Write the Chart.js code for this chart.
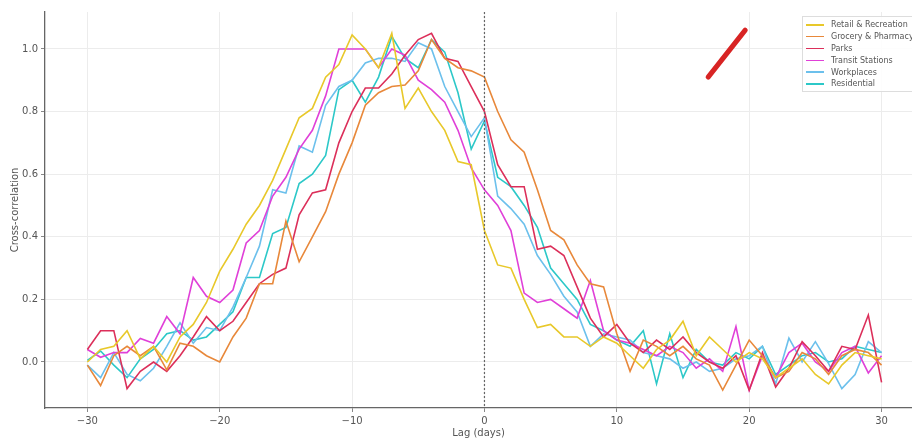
<!DOCTYPE html>
<html lang="en">
<head>
    <meta charset="UTF-8">
    <title>Cross-correlation by mobility category</title>
    <script src="https://cdn.jsdelivr.net/npm/chart.js"></script>
    <style>
        body {
            margin: 0;
            padding: 0;
            background-color: #ffffff;
            font-family: "DejaVu Sans", Arial, sans-serif;
        }
        .wrap {
            position: relative;
            width: 912px;
            height: 440px;
            overflow: hidden;
        }
        .legend {
            position: absolute;
            left: 802px;
            top: 16px;
            width: 120px;
            height: 76px;
            border: 1px solid #dddddd;
            background: rgba(255, 255, 255, 0.9);
            box-sizing: border-box;
            padding-top: 2px;
        }
        .legend .row {
            display: flex;
            align-items: center;
            height: 11.8px;
            font-size: 8px;
            color: #555555;
            white-space: nowrap;
        }
        .legend .swatch {
            width: 18px;
            height: 1.5px;
            margin-left: 3px;
            margin-right: 7px;
        }
    </style>
</head>
<body>
    <div class="wrap">
        <canvas id="ccChart" width="912" height="440"></canvas>
        <div class="legend" id="legend"></div>
    </div>
    <script>
        const lags = [];
        for (let d = -30; d <= 30; d++) lags.push(d);

        const seriesNames = ['Retail & Recreation', 'Grocery & Pharmacy', 'Parks', 'Transit Stations', 'Workplaces', 'Residential'];
        const seriesColors = ['#e8c82a', '#e8883a', '#dc2f5a', '#e040d8', '#6cc0ec', '#2cc8c8'];

        // values for lag -30 ... 30
        const retail = [0.00, 0.04, 0.05, 0.10, 0.01, 0.05, 0.00, 0.08, 0.12, 0.19,
            0.29, 0.36, 0.44, 0.50, 0.58, 0.68, 0.78, 0.81, 0.91, 0.95,
            1.045, 1.00, 0.94, 1.05, 0.81, 0.875, 0.80, 0.74, 0.64, 0.63,
            0.42,
            0.31, 0.30, 0.20, 0.11, 0.12, 0.08, 0.08, 0.05, 0.08, 0.06,
            0.02, -0.02, 0.04, 0.07, 0.13, 0.02, 0.08, 0.04, 0.00, 0.03,
            0.01, -0.05, -0.02, 0.01, -0.04, -0.07, -0.01, 0.03, 0.02, 0.01];
        const grocery = [-0.01, -0.075, 0.02, 0.05, 0.02, 0.05, -0.025, 0.06, 0.05, 0.02,
            0.00, 0.08, 0.14, 0.25, 0.25, 0.45, 0.32, 0.40, 0.48, 0.60,
            0.70, 0.82, 0.86, 0.88, 0.885, 0.93, 1.03, 0.97, 0.94, 0.93,
            0.91,
            0.80, 0.71, 0.67, 0.55, 0.42, 0.39, 0.31, 0.25, 0.24, 0.09,
            -0.03, 0.07, 0.05, 0.02, 0.05, 0.01, -0.01, -0.09, -0.01, 0.07,
            0.02, -0.05, -0.03, 0.03, 0.01, -0.04, 0.02, 0.04, 0.03, -0.01];
        const parks = [0.04, 0.10, 0.10, -0.085, -0.03, 0.00, -0.03, 0.02, 0.08, 0.145,
            0.10, 0.13, 0.19, 0.25, 0.28, 0.30, 0.47, 0.54, 0.55, 0.70,
            0.80, 0.875, 0.875, 0.92, 0.98, 1.03, 1.05, 0.97, 0.96, 0.88,
            0.80,
            0.63, 0.56, 0.56, 0.36, 0.37, 0.34, 0.24, 0.14, 0.08, 0.12,
            0.06, 0.03, 0.07, 0.04, 0.08, 0.03, 0.00, -0.02, 0.02, -0.09,
            0.03, -0.08, -0.02, 0.065, 0.02, -0.03, 0.05, 0.04, 0.15, -0.065];
        const transit = [0.04, 0.015, 0.03, 0.03, 0.075, 0.06, 0.145, 0.09, 0.27, 0.21,
            0.19, 0.23, 0.38, 0.42, 0.53, 0.59, 0.68, 0.74, 0.85, 1.00,
            1.00, 1.00, 0.94, 1.00, 0.98, 0.90, 0.87, 0.83, 0.74, 0.62,
            0.55,
            0.50, 0.42, 0.22, 0.19, 0.20, 0.17, 0.14, 0.26, 0.10, 0.07,
            0.06, 0.04, 0.02, 0.05, 0.03, -0.02, 0.01, -0.03, 0.113, -0.09,
            0.02, -0.05, 0.03, 0.06, 0.00, -0.03, 0.03, 0.05, -0.035, 0.02];
        const workplaces = [-0.01, -0.05, 0.03, -0.04, -0.06, -0.02, 0.05, 0.125, 0.06, 0.11,
            0.10, 0.175, 0.27, 0.37, 0.55, 0.54, 0.69, 0.67, 0.82, 0.88,
            0.90, 0.955, 0.97, 0.97, 0.96, 1.02, 1.00, 0.88, 0.80, 0.72,
            0.78,
            0.53, 0.49, 0.44, 0.34, 0.28, 0.21, 0.16, 0.05, 0.09, 0.08,
            0.07, 0.03, 0.02, 0.01, -0.02, 0.00, -0.03, -0.02, 0.01, 0.02,
            0.05, -0.07, 0.076, 0.00, 0.065, -0.005, -0.085, -0.04, 0.065, 0.03];
        const residential = [0.005, 0.035, -0.01, -0.05, 0.01, 0.04, 0.09, 0.10, 0.07, 0.08,
            0.12, 0.16, 0.27, 0.27, 0.41, 0.43, 0.57, 0.60, 0.66, 0.87,
            0.90, 0.83, 0.91, 1.04, 0.97, 0.94, 1.03, 0.99, 0.86, 0.68,
            0.77,
            0.59, 0.56, 0.50, 0.43, 0.30, 0.25, 0.20, 0.12, 0.10, 0.07,
            0.05, 0.10, -0.07, 0.09, -0.05, 0.04, 0.00, -0.01, 0.03, 0.01,
            0.05, -0.04, -0.01, 0.02, 0.03, 0.00, 0.01, 0.05, 0.04, 0.03];

        // the stray red stroke in the upper right of the picture
        const markLags = [16.9, 19.7];
        const markValues = [0.91, 1.06];

        const xTicks = [-30, -20, -10, 0, 10, 20, 30];
        const yTicks = [0.0, 0.2, 0.4, 0.6, 0.8, 1.0];

        const allSeries = [retail, grocery, parks, transit, workplaces, residential];

        const datasets = allSeries.map((vals, i) => ({
            label: seriesNames[i],
            data: lags.map((d, j) => ({ x: d, y: vals[j] })),
            borderColor: seriesColors[i],
            borderWidth: 1.6,
            pointRadius: 0,
            tension: 0,
            fill: false
        }));

        datasets.push({
            label: 'mark',
            data: markLags.map((d, j) => ({ x: d, y: markValues[j] })),
            borderColor: '#d82424',
            borderWidth: 5,
            borderCapStyle: 'round',
            pointRadius: 0,
            fill: false
        });

        // dashed line at lag 0
        const zeroLine = {
            id: 'zeroLine',
            afterDatasetsDraw(chart) {
                const x = chart.scales.x.getPixelForValue(0);
                const area = chart.chartArea;
                const ctx = chart.ctx;
                ctx.save();
                ctx.strokeStyle = '#666666';
                ctx.lineWidth = 1.2;
                ctx.setLineDash([2, 2]);
                ctx.beginPath();
                ctx.moveTo(x, area.top);
                ctx.lineTo(x, area.bottom);
                ctx.stroke();
                ctx.restore();
            }
        };

        const ctx = document.getElementById('ccChart').getContext('2d');
        const chart = new Chart(ctx, {
            type: 'line',
            data: { datasets: datasets },
            plugins: [zeroLine],
            options: {
                responsive: false,
                animation: false,
                layout: { padding: { top: 12, right: 0, left: 9, bottom: 0 } },
                plugins: {
                    legend: { display: false },
                    tooltip: { enabled: false }
                },
                scales: {
                    x: {
                        type: 'linear',
                        min: -33.2,
                        max: 32.3,
                        afterBuildTicks: (axis) => { axis.ticks = xTicks.map(v => ({ value: v })); },
                        afterFit: (axis) => { axis.height = 32; },
                        ticks: {
                            color: '#555555',
                            font: { size: 10, family: 'DejaVu Sans' },
                            padding: 3,
                            maxRotation: 0,
                            callback: (v) => (v < 0 ? '\u2212' + Math.abs(v) : String(v))
                        },
                        grid: { color: '#ececec', tickLength: 4, tickColor: '#888888' },
                        border: { color: '#666666', width: 1.3 },
                        title: {
                            display: true,
                            text: 'Lag (days)',
                            color: '#555555',
                            font: { size: 10, family: 'DejaVu Sans' },
                            padding: { top: 0, bottom: 1 }
                        }
                    },
                    y: {
                        min: -0.147,
                        max: 1.118,
                        afterBuildTicks: (axis) => { axis.ticks = yTicks.map(v => ({ value: v })); },
                        afterFit: (axis) => { axis.width = 36; },
                        ticks: {
                            color: '#555555',
                            font: { size: 10, family: 'DejaVu Sans' },
                            padding: 3,
                            callback: (v) => v.toFixed(1)
                        },
                        grid: { color: '#ececec', tickLength: 4, tickColor: '#888888' },
                        border: { color: '#666666', width: 1.3 },
                        title: {
                            display: true,
                            text: 'Cross-correlation',
                            color: '#555555',
                            font: { size: 10, family: 'DejaVu Sans' },
                            padding: { top: 0, bottom: 0 }
                        }
                    }
                }
            }
        });

        const legend = document.getElementById('legend');
        seriesNames.forEach((name, i) => {
            const row = document.createElement('div');
            row.className = 'row';
            row.innerHTML = '<span class="swatch" style="background:' + seriesColors[i] + '"></span>' + name;
            legend.appendChild(row);
        });
    </script>
</body>
</html>
